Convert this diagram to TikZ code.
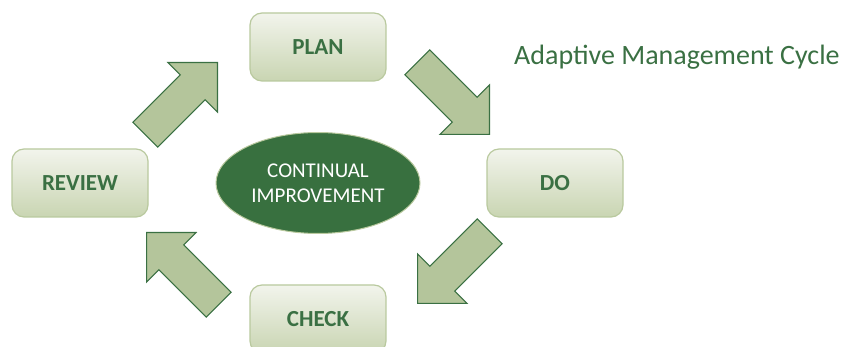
\documentclass[tikz,border=0pt]{standalone}
\usepackage{fontspec}
\setmainfont{Carlito}
\usetikzlibrary{shapes.geometric,shapes.arrows,positioning}

\definecolor{leafdark}{HTML}{3A7043}
\definecolor{arrowfill}{HTML}{B4C59B}
\definecolor{boxtop}{HTML}{F2F4EC}
\definecolor{boxbottom}{HTML}{C9D5B2}
\definecolor{boxline}{HTML}{B9C99E}
\definecolor{hubfill}{HTML}{38703F}

\tikzset{
  stagebox/.style={rectangle, rounded corners=12pt, draw=boxline, line width=1.2pt,
    top color=boxtop, bottom color=boxbottom, minimum width=136pt, minimum height=68pt,
    text=leafdark, font=\fontsize{23}{27}\selectfont\bfseries},
  cyclearrow/.style={single arrow, draw=leafdark, line width=1.1pt, fill=arrowfill,
    minimum height=102pt, inner xsep=0pt, inner ysep=17pt,
    single arrow head extend=17.5pt, anchor=tip},
  hub/.style={ellipse, fill=hubfill, draw=boxline, line width=1pt, minimum width=204pt,
    minimum height=101pt, inner sep=0pt, text=white, align=center,
    font=\fontsize{21}{25}\selectfont}
}

\begin{document}
\begin{tikzpicture}[x=1pt,y=1pt]
\clip (0,0) rectangle (854,-347);
% stages
\node[stagebox] (plan) at (318,-47) {PLAN};
\node[stagebox] (do) at (555,-183) {DO};
\node[stagebox] (check) at (318,-319) {CHECK};
\node[stagebox] (review) at (80,-183) {REVIEW};
% centre
\node[hub] (improve) at (318,-183) {CONTINUAL\\IMPROVEMENT};
% block arrows round the cycle
\node[cyclearrow, rotate=45] (reviewplan) at (218,-62) {};
\node[cyclearrow, rotate=-45] (plando) at (490,-135) {};
\node[cyclearrow, rotate=-135] (docheck) at (417,-304) {};
\node[cyclearrow, rotate=135] (checkreview) at (146,-232) {};
% title
\node[anchor=base west, inner sep=0pt, text=leafdark, font=\fontsize{28}{32}\selectfont] (title) at (514,-65) {Adaptive Management Cycle};
\end{tikzpicture}
\end{document}
